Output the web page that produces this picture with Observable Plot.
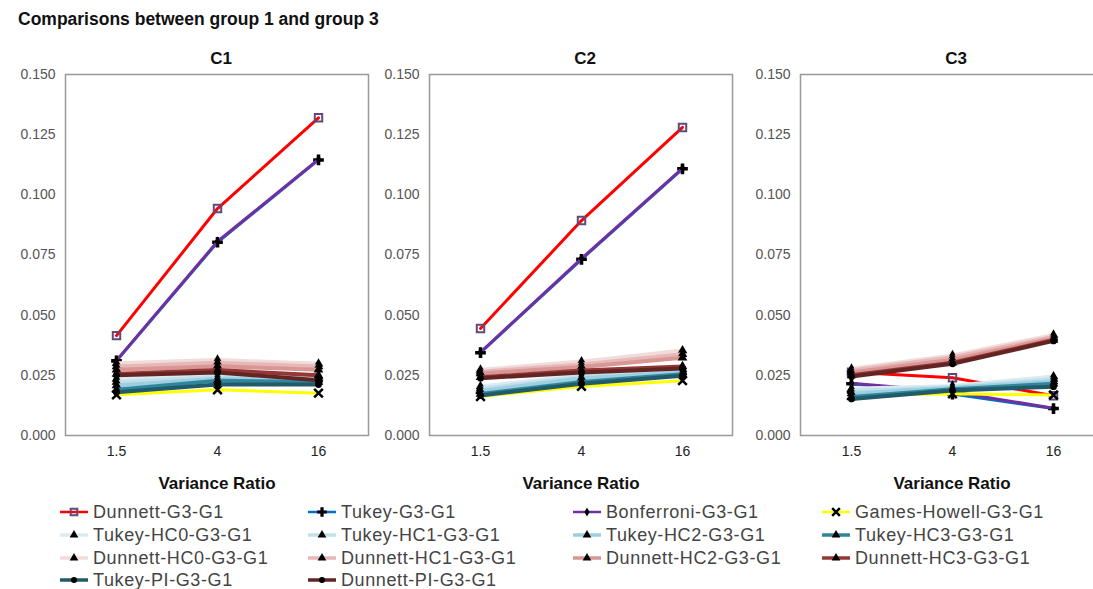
<!DOCTYPE html>
<html><head><meta charset="utf-8">
<script src="https://cdn.jsdelivr.net/npm/d3@7"></script>
<script src="https://cdn.jsdelivr.net/npm/@observablehq/plot@0.6"></script>
<style>
body{margin:0;background:#fff;font-family:"Liberation Sans",Arial,sans-serif;}
#root{position:relative;width:1093px;height:589px;overflow:hidden;background:#fff;}
#title{position:absolute;left:18px;top:8px;font-weight:bold;font-size:17.5px;color:#111;line-height:22px;white-space:nowrap}
.panel{position:absolute;top:44px;}
.leg{position:absolute;display:flex;align-items:center;font-size:18px;letter-spacing:0.6px;color:#444;white-space:nowrap;height:22px}
.leg svg{margin-right:5px;overflow:visible}
</style>
</head><body>
<div id="root"><div id="title">Comparisons between group 1 and group 3</div></div>
<script>
// ---------- data ----------
const ratios = ["1.5", "4", "16"];
const panelNames = ["C1", "C2", "C3"];
const yTicks = [0, 0.025, 0.05, 0.075, 0.1, 0.125, 0.15];
const xLabel = "Variance Ratio";
const seriesNames = [
  "Dunnett-G3-G1", "Tukey-G3-G1", "Bonferroni-G3-G1", "Games-Howell-G3-G1",
  "Tukey-HC0-G3-G1", "Tukey-HC1-G3-G1", "Tukey-HC2-G3-G1", "Tukey-HC3-G3-G1",
  "Dunnett-HC0-G3-G1", "Dunnett-HC1-G3-G1", "Dunnett-HC2-G3-G1", "Dunnett-HC3-G3-G1",
  "Tukey-PI-G3-G1", "Dunnett-PI-G3-G1"
];
// values per panel [C1, C2, C3], each over ratios 1.5, 4, 16
const dunnett     = [[0.0415, 0.0943, 0.1320], [0.0445, 0.0893, 0.1280], [0.0263, 0.0240, 0.0165]];
const tukey       = [[0.0310, 0.0803, 0.1145], [0.0344, 0.0732, 0.1108], [0.0215, 0.0172, 0.0112]];
const bonferroni  = [[0.0312, 0.0806, 0.1147], [0.0346, 0.0735, 0.1110], [0.0217, 0.0182, 0.0113]];
const gamesHowell = [[0.0169, 0.0190, 0.0176], [0.0162, 0.0204, 0.0228], [0.0166, 0.0173, 0.0168]];
const tukeyHC0    = [[0.0235, 0.0250, 0.0245], [0.0204, 0.0250, 0.0275], [0.0194, 0.0206, 0.0245]];
const tukeyHC1    = [[0.0222, 0.0243, 0.0238], [0.0194, 0.0245, 0.0268], [0.0185, 0.0202, 0.0235]];
const tukeyHC2    = [[0.0208, 0.0236, 0.0232], [0.0185, 0.0238, 0.0262], [0.0175, 0.0198, 0.0225]];
const tukeyHC3    = [[0.0190, 0.0228, 0.0222], [0.0173, 0.0222, 0.0255], [0.0160, 0.0192, 0.0215]];
const dunnettHC0  = [[0.0300, 0.0314, 0.0298], [0.0273, 0.0307, 0.0353], [0.0277, 0.0333, 0.0418]];
const dunnettHC1  = [[0.0287, 0.0302, 0.0287], [0.0265, 0.0295, 0.0338], [0.0270, 0.0325, 0.0410]];
const dunnettHC2  = [[0.0273, 0.0288, 0.0273], [0.0258, 0.0285, 0.0323], [0.0262, 0.0315, 0.0403]];
const dunnettHC3  = [[0.0256, 0.0272, 0.0250], [0.0242, 0.0270, 0.0287], [0.0250, 0.0302, 0.0397]];
const tukeyPI     = [[0.0180, 0.0212, 0.0212], [0.0166, 0.0215, 0.0248], [0.0152, 0.0187, 0.0203]];
const dunnettPI   = [[0.0250, 0.0262, 0.0230], [0.0238, 0.0262, 0.0278], [0.0245, 0.0298, 0.0393]];
const seriesValues = [dunnett, tukey, bonferroni, gamesHowell, tukeyHC0, tukeyHC1, tukeyHC2, tukeyHC3,
  dunnettHC0, dunnettHC1, dunnettHC2, dunnettHC3, tukeyPI, dunnettPI];

// ---------- styles ----------
const seriesColors = ["#ff0000", "#0070c0", "#7030a0", "#ffff00",
  "#dcebf1", "#c3e0ea", "#9ccfe0", "#31859c",
  "#f2dcdb", "#e6b9b8", "#d99694", "#953735",
  "#215a69", "#632523"];
const seriesWidths = [3, 3, 3, 3, 4, 4, 4, 4, 4, 4, 4, 4, 4, 4];
const seriesSymbols = ["square", "cross", "diamond", "times",
  "triangle", "triangle", "triangle", "triangle",
  "triangle", "triangle", "triangle", "triangle",
  "circle", "circle"];

function markStyle(sym) {
  if (sym === "square") return {fill: "none", stroke: "#604a7b", strokeWidth: 2, r: 4.2};
  if (sym === "times") return {fill: "none", stroke: "#000", strokeWidth: 2.5, r: 4};
  if (sym === "cross") return {fill: "#000", stroke: "none", r: 4.5};
  if (sym === "diamond") return {fill: "#000", stroke: "none", r: 3};
  if (sym === "triangle") return {fill: "#000", stroke: "none", r: 3.6};
  return {fill: "#000", stroke: "none", r: 3.4};
}

const root = document.getElementById("root");
const panelLefts = [5, 369, 740];

panelNames.forEach((pn, pi) => {
  const marks = [Plot.frame({stroke: "#999", strokeWidth: 1.5})];
  seriesNames.forEach((name, si) => {
    const rows = ratios.map((r, i) => ({name, ratio: r, v: seriesValues[si][pi][i]}));
    marks.push(Plot.lineY(rows, {x: "ratio", y: "v", stroke: seriesColors[si], strokeWidth: seriesWidths[si]}));
    const ms = markStyle(seriesSymbols[si]);
    marks.push(Plot.dot(rows, {x: "ratio", y: "v", symbol: seriesSymbols[si], ...ms}));
  });
  marks.push(Plot.axisY({ticks: yTicks, tickFormat: d3.format(".3f"), tickSize: 0, tickPadding: 10, label: null, fill: "#555", fontSize: 14}));
  marks.push(Plot.axisX({tickSize: 0, tickPadding: 11, label: null, fill: "#222", fontSize: 14}));
  marks.push(Plot.text([pn], {frameAnchor: "top", lineAnchor: "middle", dy: -16, dx: 4, fontWeight: "bold", fontSize: 17, fill: "#111"}));
  marks.push(Plot.text([xLabel], {frameAnchor: "bottom", lineAnchor: "middle", dy: 48, fontWeight: "bold", fontSize: 17, fill: "#111"}));
  const svg = Plot.plot({
    width: 368, height: 451,
    marginLeft: 60, marginRight: 5, marginTop: 30, marginBottom: 60,
    x: {type: "point", domain: ratios, padding: 0.5},
    y: {domain: [0, 0.15]},
    style: {fontFamily: "Liberation Sans, Arial, sans-serif", fontSize: "14px", background: "transparent", overflow: "visible"},
    marks
  });
  svg.classList.add("panel");
  svg.style.left = panelLefts[pi] + "px";
  root.appendChild(svg);
});

// ---------- legend ----------
const legCols = [60, 308, 573, 822];
const legRows = [512, 535, 558, 580];
const symMap = {square: d3.symbolSquare, cross: d3.symbolCross, diamond: d3.symbolDiamond, times: d3.symbolTimes, triangle: d3.symbolTriangle, circle: d3.symbolCircle};
seriesNames.forEach((name, si) => {
  const col = si % 4, row = Math.floor(si / 4);
  const div = document.createElement("div");
  div.className = "leg";
  div.style.left = legCols[col] + "px";
  div.style.top = (legRows[row] - 11) + "px";
  const s = d3.create("svg").attr("width", 28).attr("height", 22);
  s.append("line").attr("x1", 0).attr("x2", 28).attr("y1", 11).attr("y2", 11)
    .attr("stroke", seriesColors[si]).attr("stroke-width", seriesWidths[si] - 0.5);
  const ms = markStyle(seriesSymbols[si]);
  s.append("path").attr("transform", "translate(14,11)")
    .attr("d", d3.symbol(symMap[seriesSymbols[si]], Math.PI * ms.r * ms.r * 0.8)())
    .attr("fill", ms.fill).attr("stroke", ms.stroke).attr("stroke-width", ms.strokeWidth || 0);
  div.appendChild(s.node());
  const t = document.createElement("span");
  t.textContent = name;
  div.appendChild(t);
  root.appendChild(div);
});
</script>
</body></html>
